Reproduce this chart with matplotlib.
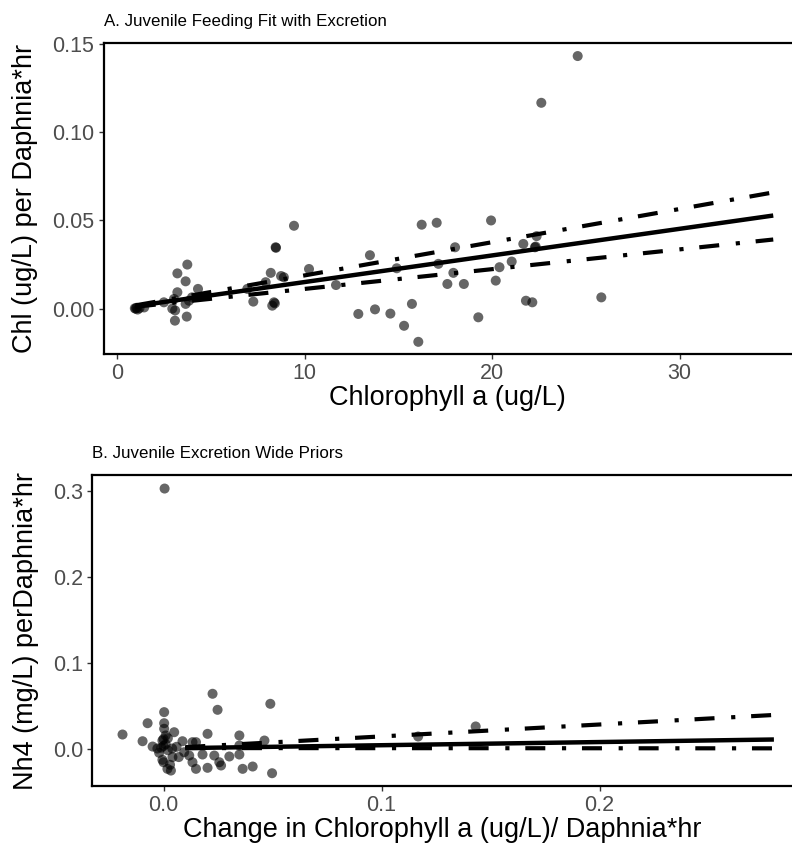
import matplotlib.pyplot as plt

plt.rcParams['font.family'] = ['Liberation Sans', 'DejaVu Sans']

# panel A: feeding data (Chl a vs Chl per Daphnia*hr)
chl_x = [1.0, 1.05, 1.1, 1.2, 0.95, 1.45,
         2.5, 2.95, 3.1, 3.04, 3.22, 3.22, 3.75, 3.66, 4.32, 3.66, 3.84, 4.0, 3.09, 3.72,
         6.95, 7.27, 8.2, 8.46, 8.48, 7.93, 8.9, 8.75, 8.37, 8.42, 8.28, 9.44, 10.24,
         11.68, 12.87, 13.76, 14.58, 13.49, 14.92, 15.31, 15.73, 16.07, 16.25, 17.05,
         17.14, 17.62, 18.03, 17.94, 18.5, 19.95, 20.4, 21.05, 20.2, 19.27, 21.67, 22.38,
         22.29, 22.33, 21.81, 22.15, 22.63, 24.57, 25.83]
feed_y = [0.0, 0.0005, -0.0005, 0.0003, 0.0002, 0.0007,
          0.0036, 0.0, -0.001, 0.0055, 0.0093, 0.020, 0.025, 0.0155, 0.0112, 0.0027, 0.0045, 0.0064, -0.0068, -0.0045,
          0.0112, 0.004, 0.0203, 0.0348, 0.0345, 0.015, 0.0178, 0.0185, 0.0036, 0.003, 0.0017, 0.047, 0.0225,
          0.0134, -0.003, -0.0004, -0.0028, 0.0303, 0.0229, -0.0097, 0.0027, -0.0188, 0.0476, 0.0487,
          0.0254, 0.014, 0.0348, 0.0203, 0.014, 0.050, 0.0235, 0.0267, 0.0159, -0.0049, 0.0367, 0.0411,
          0.0348, 0.0352, 0.0045, 0.0036, 0.1167, 0.1432, 0.0064]

# fitted line + interval ends
fitA_x = [1.0, 35.0]
fitA_mid = [0.0015, 0.0528]
fitA_hi = [0.0019, 0.0659]
fitA_lo = [0.0011, 0.0392]

# panel B: excretion data
dchl_x = [-0.0188, -0.0096, -0.0073, 0.0003, 0.0003, -0.005, -0.0028, -0.0005, 0.001, 0.0003,
          0.0049, -0.0005, 0.0041, 0.0018, 0.0034, 0.0087, 0.0095, 0.0133, 0.0149, 0.0133,
          0.0149, 0.0118, 0.0179, 0.0202, 0.0202, 0.0225, 0.0248, 0.0233, 0.0256, 0.0264,
          0.0302, 0.0348, 0.0348, 0.0348, 0.0363, 0.0409, 0.0463, 0.049, 0.0498, 0.1168,
          0.1432, 0.0005,
          0.0, 0.001, -0.001, 0.002, 0.0, 0.002, 0.004, 0.006, -0.002, 0.007, 0.0, 0.003]
nh4_y = [0.0163, 0.0085, 0.0295, 0.0424, 0.0295, 0.0023, 0.0, 0.0093, 0.0152, 0.023,
         0.019, -0.0132, -0.0101, -0.0237, -0.0257, 0.0085, -0.0043, 0.0074, 0.0074, -0.016,
         -0.0237, -0.0082, -0.007, 0.0171, -0.0225, 0.0638, 0.0451, -0.0082, -0.016, -0.0198,
         -0.0093, 0.0152, 0.0035, -0.007, -0.0237, -0.021, 0.0093, 0.0521, -0.0288, 0.014,
         0.0257, 0.303,
         0.003, 0.005, 0.001, -0.002, 0.011, 0.012, 0.0, 0.002, -0.005, -0.01, -0.016, -0.019]

fitB_x = [0.01, 0.28]
fitB_mid = [0.0005, 0.0105]
fitB_hi = [0.0016, 0.0391]
fitB_lo = [0.0005, 0.0002]

W, H = 792, 849
fig = plt.figure(figsize=(W / 100, H / 100), dpi=100)

def px_axes(left, top, right, bottom):
    return fig.add_axes([left / W, 1 - bottom / H, (right - left) / W, (bottom - top) / H])

axA = px_axes(103.5, 43, 792, 354)
axB = px_axes(92, 475, 792, 786)

dashdot = (0, (4.8, 4.0, 1.0, 3.8))

def draw(ax, x, y, fx, mid, hi, lo):
    ax.scatter(x, y, s=52, color='black', alpha=0.6, edgecolors='none', zorder=2)
    ax.plot(fx, mid, color='black', lw=3.2, solid_capstyle='butt', zorder=3)
    ax.plot(fx, hi, color='black', lw=3.0, linestyle=dashdot, dash_capstyle='butt', zorder=3)
    ax.plot(fx, lo, color='black', lw=3.0, linestyle=dashdot, dash_capstyle='butt', zorder=3)
    for s in ['left', 'bottom', 'top']:
        ax.spines[s].set_linewidth(1.6)
        ax.spines[s].set_color('black')
    ax.spines['right'].set_visible(False)
    ax.tick_params(labelsize=15.5, colors='#333333', labelcolor='#4D4D4D',
                   length=3.5, width=1.0, pad=3)

draw(axA, chl_x, feed_y, fitA_x, fitA_mid, fitA_hi, fitA_lo)
axA.set_xlim(-0.72, 36.0)
axA.set_ylim(-0.0257, 0.1506)
axA.set_xticks([0, 10, 20, 30])
axA.set_yticks([0.0, 0.05, 0.10, 0.15])
axA.set_yticklabels(['0.00', '0.05', '0.10', '0.15'])
axA.set_xlabel('Chlorophyll a (ug/L)', fontsize=19.5, labelpad=1)
axA.set_ylabel('Chl (ug/L) per Daphnia*hr', fontsize=19.5, labelpad=10)
axA.set_title('A. Juvenile Feeding Fit with Excretion', loc='left', fontsize=12.2, pad=12)

draw(axB, dchl_x, nh4_y, fitB_x, fitB_mid, fitB_hi, fitB_lo)
axB.set_xlim(-0.0328, 0.2883)
axB.set_ylim(-0.0437, 0.3188)
axB.set_xticks([0.0, 0.1, 0.2])
axB.set_xticklabels(['0.0', '0.1', '0.2'])
axB.set_yticks([0.0, 0.1, 0.2, 0.3])
axB.set_yticklabels(['0.0', '0.1', '0.2', '0.3'])
axB.set_xlabel('Change in Chlorophyll a (ug/L)/ Daphnia*hr', fontsize=19.5, labelpad=1)
axB.set_ylabel('Nh4 (mg/L) perDaphnia*hr', fontsize=19.5, labelpad=10)
axB.set_title('B. Juvenile Excretion Wide Priors', loc='left', fontsize=12.2, pad=12)

fig.savefig('out.png', dpi=100)
